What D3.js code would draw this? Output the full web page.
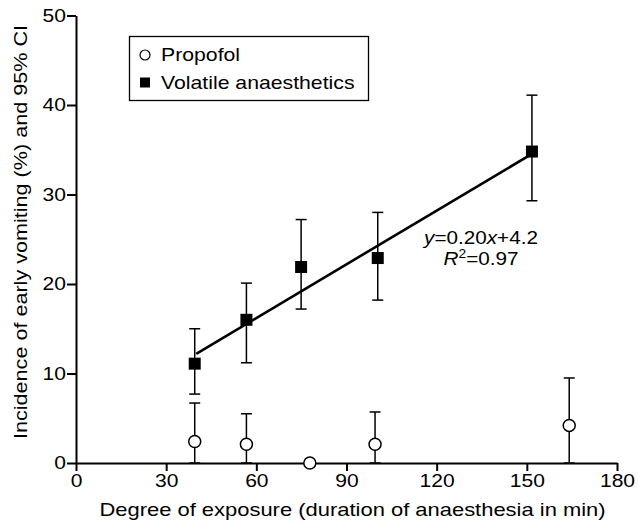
<!DOCTYPE html>
<html>
<head>
<meta charset="utf-8">
<script src="https://cdn.jsdelivr.net/npm/d3@7"></script>
<style>
  body { margin: 0; background: #fff; }
  text { font-family: "Liberation Sans", Arial, sans-serif; fill: #000; }
</style>
</head>
<body>
<script>
const width = 638, height = 522;

// volatile anaesthetics: duration (min), incidence (%), 95% CI
const volX  = [39.5, 56.7, 74.9, 100.4, 151.7];
const volY  = [11.1, 16.0, 21.9, 22.9, 34.8];
const volLo = [7.7, 11.2, 17.2, 18.2, 29.3];
const volHi = [15.0, 20.1, 27.2, 28.0, 41.1];

// propofol
const propX  = [39.5, 56.7, 77.8, 99.5, 164.1];
const propY  = [2.4, 2.1, 0, 2.1, 4.2];
const propLo = [0, 0, 0, 0, 0];
const propHi = [6.7, 5.5, 0, 5.7, 9.5];

// regression for volatile group
const fitSlope = 0.20, fitIntercept = 4.2;
const fitRange = [40, 152];

const xTicks = [0, 30, 60, 90, 120, 150, 180];
const yTicks = [0, 10, 20, 30, 40, 50];

// the original type is a little wider than Liberation Sans
const squeeze = (k) => `scale(${k},1)`;

const svg = d3.select("body").append("svg")
  .attr("width", width)
  .attr("height", height);

const x = d3.scaleLinear().domain([0, 180]).range([76, 617]);
const y = d3.scaleLinear().domain([0, 50]).range([463, 15.5]);

// axes
const xAxis = svg.append("g")
  .attr("transform", `translate(0,${y(0)})`)
  .call(d3.axisBottom(x).tickValues(xTicks).tickSize(8).tickSizeOuter(0));
xAxis.selectAll("text")
  .attr("y", 11)
  .attr("font-size", 18)
  .attr("transform", squeeze(1.17));

const yAxis = svg.append("g")
  .attr("transform", `translate(${x(0)},0)`)
  .call(d3.axisLeft(y).tickValues(yTicks).tickSize(9).tickSizeOuter(0));
yAxis.selectAll("text")
  .attr("x", null)
  .attr("font-size", 18)
  .attr("transform", "translate(-10,0) " + squeeze(1.17));

svg.selectAll(".domain, .tick line")
  .attr("stroke", "#000")
  .attr("stroke-width", 2);

svg.append("text")
  .attr("font-size", 18)
  .attr("text-anchor", "middle")
  .attr("transform", "translate(352.5,516) " + squeeze(1.22))
  .text("Degree of exposure (duration of anaesthesia in min)");

svg.append("text")
  .attr("font-size", 18)
  .attr("text-anchor", "middle")
  .attr("transform", "translate(27,232) rotate(-90) " + squeeze(1.2))
  .text("Incidence of early vomiting (%) and 95% CI");

// error bars
function errorBars(xs, lo, hi) {
  const g = svg.append("g").attr("stroke", "#000").attr("stroke-width", 1.5);
  xs.forEach(function (d, i) {
    g.append("line")
      .attr("x1", x(d)).attr("x2", x(d))
      .attr("y1", y(lo[i])).attr("y2", y(hi[i]));
    [lo[i], hi[i]].forEach(function (v) {
      g.append("line")
        .attr("x1", x(d) - 5.5).attr("x2", x(d) + 5.5)
        .attr("y1", y(v)).attr("y2", y(v));
    });
  });
}
errorBars(volX, volLo, volHi);
errorBars(propX.filter((d, i) => propHi[i] > 0),
          propLo.filter((d, i) => propHi[i] > 0),
          propHi.filter((d, i) => propHi[i] > 0));

// fitted line
svg.append("line")
  .attr("x1", x(fitRange[0])).attr("y1", y(fitSlope * fitRange[0] + fitIntercept))
  .attr("x2", x(fitRange[1])).attr("y2", y(fitSlope * fitRange[1] + fitIntercept))
  .attr("stroke", "#000")
  .attr("stroke-width", 2.6);

// markers
svg.selectAll("rect.vol")
  .data(volX)
  .enter()
  .append("rect")
  .attr("class", "vol")
  .attr("x", (d) => x(d) - 6)
  .attr("y", (d, i) => y(volY[i]) - 6)
  .attr("width", 12)
  .attr("height", 12)
  .attr("fill", "#000");

svg.selectAll("circle.prop")
  .data(propX)
  .enter()
  .append("circle")
  .attr("class", "prop")
  .attr("cx", (d) => x(d))
  .attr("cy", (d, i) => y(propY[i]))
  .attr("r", 6)
  .attr("fill", "#fff")
  .attr("stroke", "#000")
  .attr("stroke-width", 1.5);

// equation
const eq = svg.append("text")
  .attr("font-size", 18)
  .attr("text-anchor", "middle")
  .attr("transform", "translate(481,244) " + squeeze(1.15));
eq.append("tspan").attr("font-style", "italic").text("y");
eq.append("tspan").text("=0.20");
eq.append("tspan").attr("font-style", "italic").text("x");
eq.append("tspan").text("+4.2");

const r2 = svg.append("text")
  .attr("font-size", 18)
  .attr("text-anchor", "middle")
  .attr("transform", "translate(481,265) " + squeeze(1.15));
r2.append("tspan").attr("font-style", "italic").text("R");
r2.append("tspan").attr("font-size", 12).attr("dy", -7).text("2");
r2.append("tspan").attr("dy", 7).text("=0.97");

// legend
const legend = svg.append("g");
legend.append("rect")
  .attr("x", 129.5).attr("y", 36.5)
  .attr("width", 239).attr("height", 64)
  .attr("fill", "none")
  .attr("stroke", "#000")
  .attr("stroke-width", 1.3);
legend.append("circle")
  .attr("cx", 145).attr("cy", 55).attr("r", 5)
  .attr("fill", "#fff").attr("stroke", "#000").attr("stroke-width", 1.2);
legend.append("rect")
  .attr("x", 140).attr("y", 77.5).attr("width", 10).attr("height", 10)
  .attr("fill", "#000");
legend.append("text")
  .attr("font-size", 18)
  .attr("transform", "translate(161,61) " + squeeze(1.18))
  .text("Propofol");
legend.append("text")
  .attr("font-size", 18)
  .attr("transform", "translate(161,89) " + squeeze(1.18))
  .text("Volatile anaesthetics");
</script>
</body>
</html>
